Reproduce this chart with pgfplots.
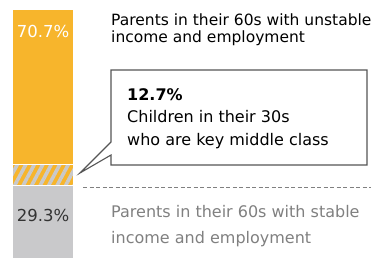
\documentclass[border=0pt]{standalone}
\usepackage{pgfplots}
\pgfplotsset{compat=1.18}
\usetikzlibrary{patterns.meta}
\usepackage{fontspec}
\setmainfont{DejaVu Sans}
\definecolor{barorange}{HTML}{F7B52C}
\definecolor{bargray}{HTML}{C9C9CB}
\definecolor{boxline}{HTML}{555555}
\definecolor{softtext}{HTML}{808080}
\begin{document}
\begin{tikzpicture}[x=1pt,y=1pt]
\useasboundingbox (0,0) rectangle (371,261);
\begin{axis}[at={(0,0)}, anchor=south west, scale only axis, width=371pt, height=261pt,
  hide axis, xmin=0, xmax=371, ymin=-0.8, ymax=103.6, ybar stacked, bar width=62, clip=false]
\addplot[fill=bargray, draw=white, line width=1.5pt] coordinates {(43,29.3)};
\addplot[fill=barorange, draw=white, line width=1.5pt,
  postaction={pattern={Lines[angle=62,distance=7.5pt,line width=3.6pt]}, pattern color=bargray}] coordinates {(43,8.4)};
\addplot[fill=barorange, draw=white, line width=1.5pt] coordinates {(43,62.3)};
\end{axis}
\fontsize{16.5}{18}\selectfont
\node[text=white, anchor=center, inner sep=0] at (43,261-32) {70.7\%};
\node[text=black!80, anchor=center, inner sep=0] at (43,261-215) {29.3\%};
\fontsize{15.5}{18}\selectfont
\node[anchor=base west, inner sep=0] at (111,261-26) {Parents in their 60s with unstable};
\node[anchor=base west, inner sep=0] at (111,261-43) {income and employment};
\draw[boxline, line width=1.1pt, line join=miter] (111,261-70) -- (367,261-70) -- (367,261-165) -- (111,261-165) -- (111,261-155) -- (80,261-173) -- (111,261-142) -- cycle;
\fontsize{16}{18}\selectfont
\node[anchor=base west, inner sep=0, font=\bfseries] at (127,261-101) {12.7\%};
\node[anchor=base west, inner sep=0] at (127,261-123) {Children in their 30s};
\node[anchor=base west, inner sep=0] at (127,261-146) {who are key middle class};
\draw[softtext, dashed, dash pattern=on 4pt off 2.5pt, line width=0.8pt] (83,261-187) -- (371,261-187);
\fontsize{16}{18}\selectfont
\node[anchor=base west, inner sep=0, text=softtext] at (111,261-218) {Parents in their 60s with stable};
\node[anchor=base west, inner sep=0, text=softtext] at (111,261-244) {income and employment};
\end{tikzpicture}
\end{document}
